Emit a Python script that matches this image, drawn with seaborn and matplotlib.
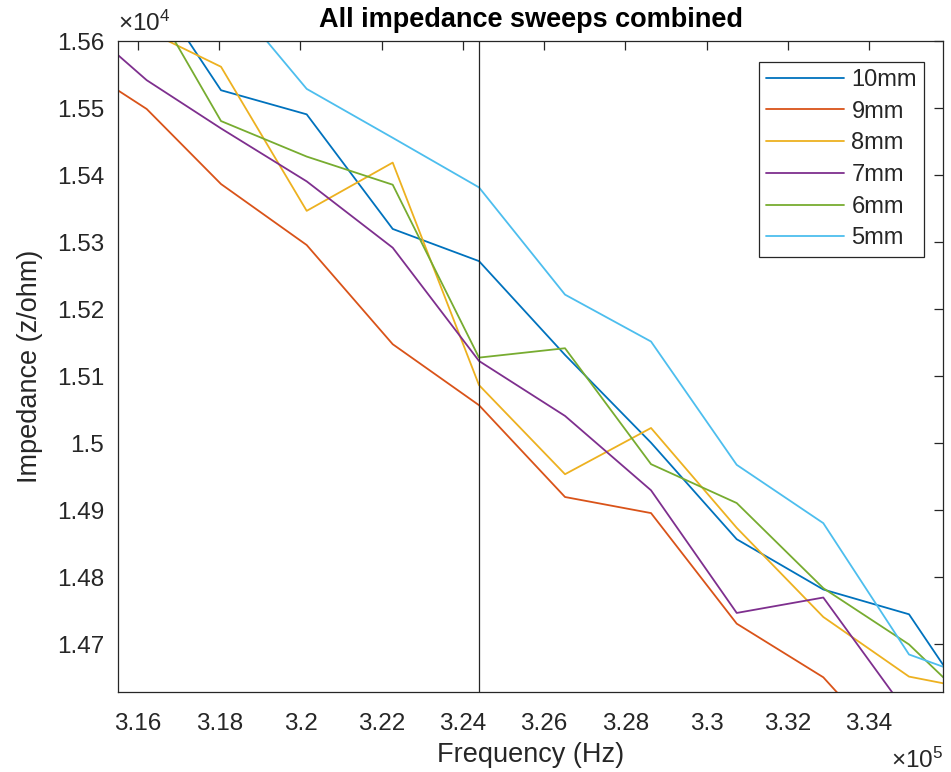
import matplotlib
matplotlib.use("Agg")
import matplotlib.pyplot as plt
import seaborn as sns
import pandas as pd
from matplotlib.ticker import FuncFormatter, MultipleLocator

# ---- data ----
freqs = [314100, 316214, 318044, 320154, 322272, 324397, 326515, 328633,
         330743, 332875, 334986, 337100]
labels = ["10mm", "9mm", "8mm", "7mm", "6mm", "5mm"]
z_10mm = [15800, 15694, 15527, 15491, 15320, 15272, 15132, 15001, 14857, 14782, 14745, 14555]
z_9mm = [15582, 15499, 15387, 15296, 15148, 15057, 14920, 14896, 14731, 14651, 14510, 14400]
z_8mm = [15700, 15616, 15562, 15347, 15419, 15087, 14954, 15023, 14874, 14741, 14652, 14627]
z_7mm = [15654, 15542, 15470, 15391, 15292, 15123, 15041, 14930, 14747, 14770, 14594, 14450]
z_6mm = [15780, 15673, 15481, 15428, 15386, 15128, 15142, 14969, 14911, 14784, 14700, 14577]
z_5mm = [15900, 15815, 15682, 15529, 15456, 15382, 15222, 15152, 14968, 14881, 14685, 14639]
marker_freq = 324397
x_limits = (315508, 335830)
y_limits = (14629, 15600)
colors = ["#0072BD", "#D95319", "#EDB120", "#7E2F8E", "#77AC30", "#4DBEEE"]

series = [z_10mm, z_9mm, z_8mm, z_7mm, z_6mm, z_5mm]
rows = []
for lab, vals in zip(labels, series):
    for f, v in zip(freqs, vals):
        rows.append({"Frequency": f, "Impedance": v, "Sweep": lab})
df = pd.DataFrame(rows)

sns.set_theme(style="white")
plt.rcParams["font.family"] = ["Liberation Sans", "DejaVu Sans"]
plt.rcParams["mathtext.fontset"] = "custom"
plt.rcParams["mathtext.rm"] = "Liberation Sans"
plt.rcParams["mathtext.it"] = "Liberation Sans"

dark = "#262626"
fig = plt.figure(figsize=(9.51, 7.72), dpi=100)
ax = fig.add_axes([0.1241, 0.1036, 0.8678, 0.8429])

sns.lineplot(data=df, x="Frequency", y="Impedance", hue="Sweep",
             hue_order=labels, palette=colors, sort=False,
             linewidth=1.3, ax=ax)

ax.axvline(marker_freq, color=dark, linewidth=0.9)

ax.set_xlim(*x_limits)
ax.set_ylim(*y_limits)
ax.xaxis.set_major_locator(MultipleLocator(2000))
ax.yaxis.set_major_locator(MultipleLocator(100))
ax.xaxis.set_major_formatter(FuncFormatter(lambda v, p: f"{round(v / 1e5, 4):g}"))
ax.yaxis.set_major_formatter(FuncFormatter(lambda v, p: f"{round(v / 1e4, 4):g}"))

for s in ax.spines.values():
    s.set_visible(True)
    s.set_color(dark)
    s.set_linewidth(0.9)
ax.tick_params(direction="in", length=6.5, width=0.9, colors=dark,
               labelsize=17.5, top=True, right=True, pad=10)
ax.tick_params(axis="x", pad=15)

ax.set_xlabel("Frequency (Hz)", fontsize=19.5, color=dark, labelpad=5)
ax.set_ylabel("Impedance (z/ohm)", fontsize=19.5, color=dark, labelpad=10)
ax.set_title("All impedance sweeps combined", fontsize=19.5, fontweight="bold",
             color="black", pad=10)

ax.text(0.0, 1.008, r"$\times10^{4}$", transform=ax.transAxes, ha="left",
        va="bottom", fontsize=17.5, color=dark)
ax.text(1.0, -0.116, r"$\times10^{5}$", transform=ax.transAxes, ha="right",
        va="baseline", fontsize=17.5, color=dark)

handles, labs = ax.get_legend_handles_labels()
leg = ax.legend(handles, labs, loc="upper right", bbox_to_anchor=(0.9766, 0.9682),
                borderaxespad=0, fontsize=17, handlelength=3.3, handletextpad=0.3,
                labelspacing=0.41, borderpad=0.3, frameon=True, fancybox=False,
                edgecolor=dark, framealpha=1)
leg.get_frame().set_linewidth(0.9)
for t in leg.get_texts():
    t.set_color(dark)

fig.savefig("out.png", dpi=100)
